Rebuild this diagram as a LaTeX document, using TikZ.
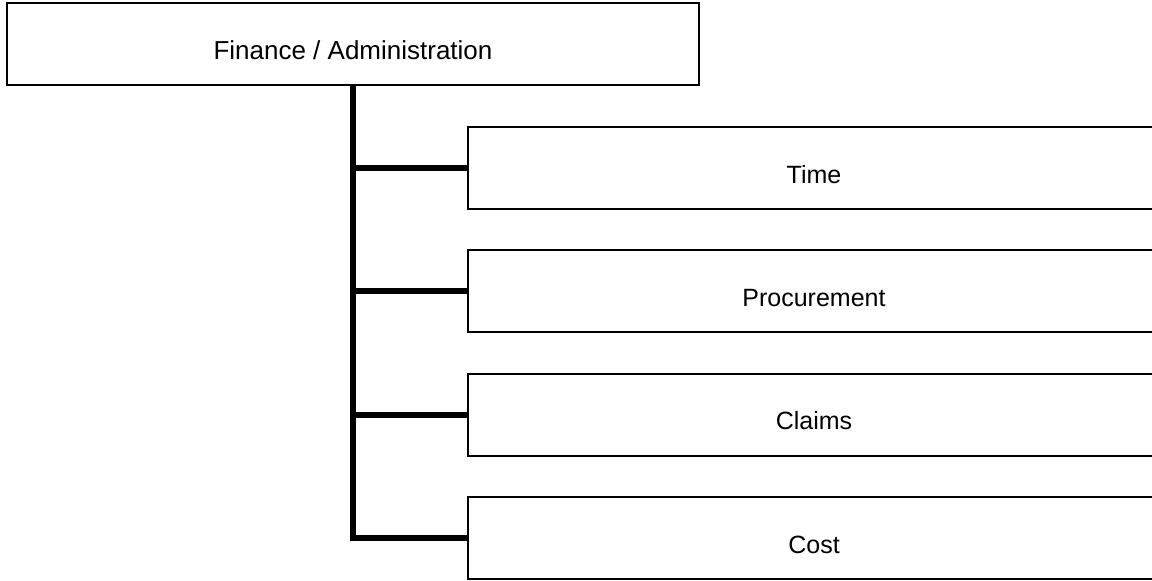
\documentclass[tikz,border=0pt]{standalone}
\usepackage{fontspec}
\setmainfont{Liberation Sans}
\begin{document}
\begin{tikzpicture}[x=1pt,y=-1pt,
  box/.style={draw=black,line width=2pt,fill=white,minimum width=692pt,minimum height=82pt,
    inner sep=0pt,text height=30pt,text depth=0pt,font=\fontsize{25}{30}\selectfont},
  conn/.style={line width=6pt,line cap=butt,line join=miter}]
\useasboundingbox (0,0) rectangle (1152,581);
\clip (0,0) rectangle (1152,581);
\node[box,font=\fontsize{26}{30}\selectfont] (top) at (353,44.4) {Finance / Administration};
\node[box] (time) at (814,168) {Time};
\node[box] (proc) at (814,291) {Procurement};
\node[box] (claims) at (814,414.5) {Claims};
\node[box] (cost) at (814,538) {Cost};
\draw[conn] (top.south) |- (cost.west);
\draw[conn] (top.south |- time.west) -- (time.west);
\draw[conn] (top.south |- proc.west) -- (proc.west);
\draw[conn] (top.south |- claims.west) -- (claims.west);
\end{tikzpicture}
\end{document}
